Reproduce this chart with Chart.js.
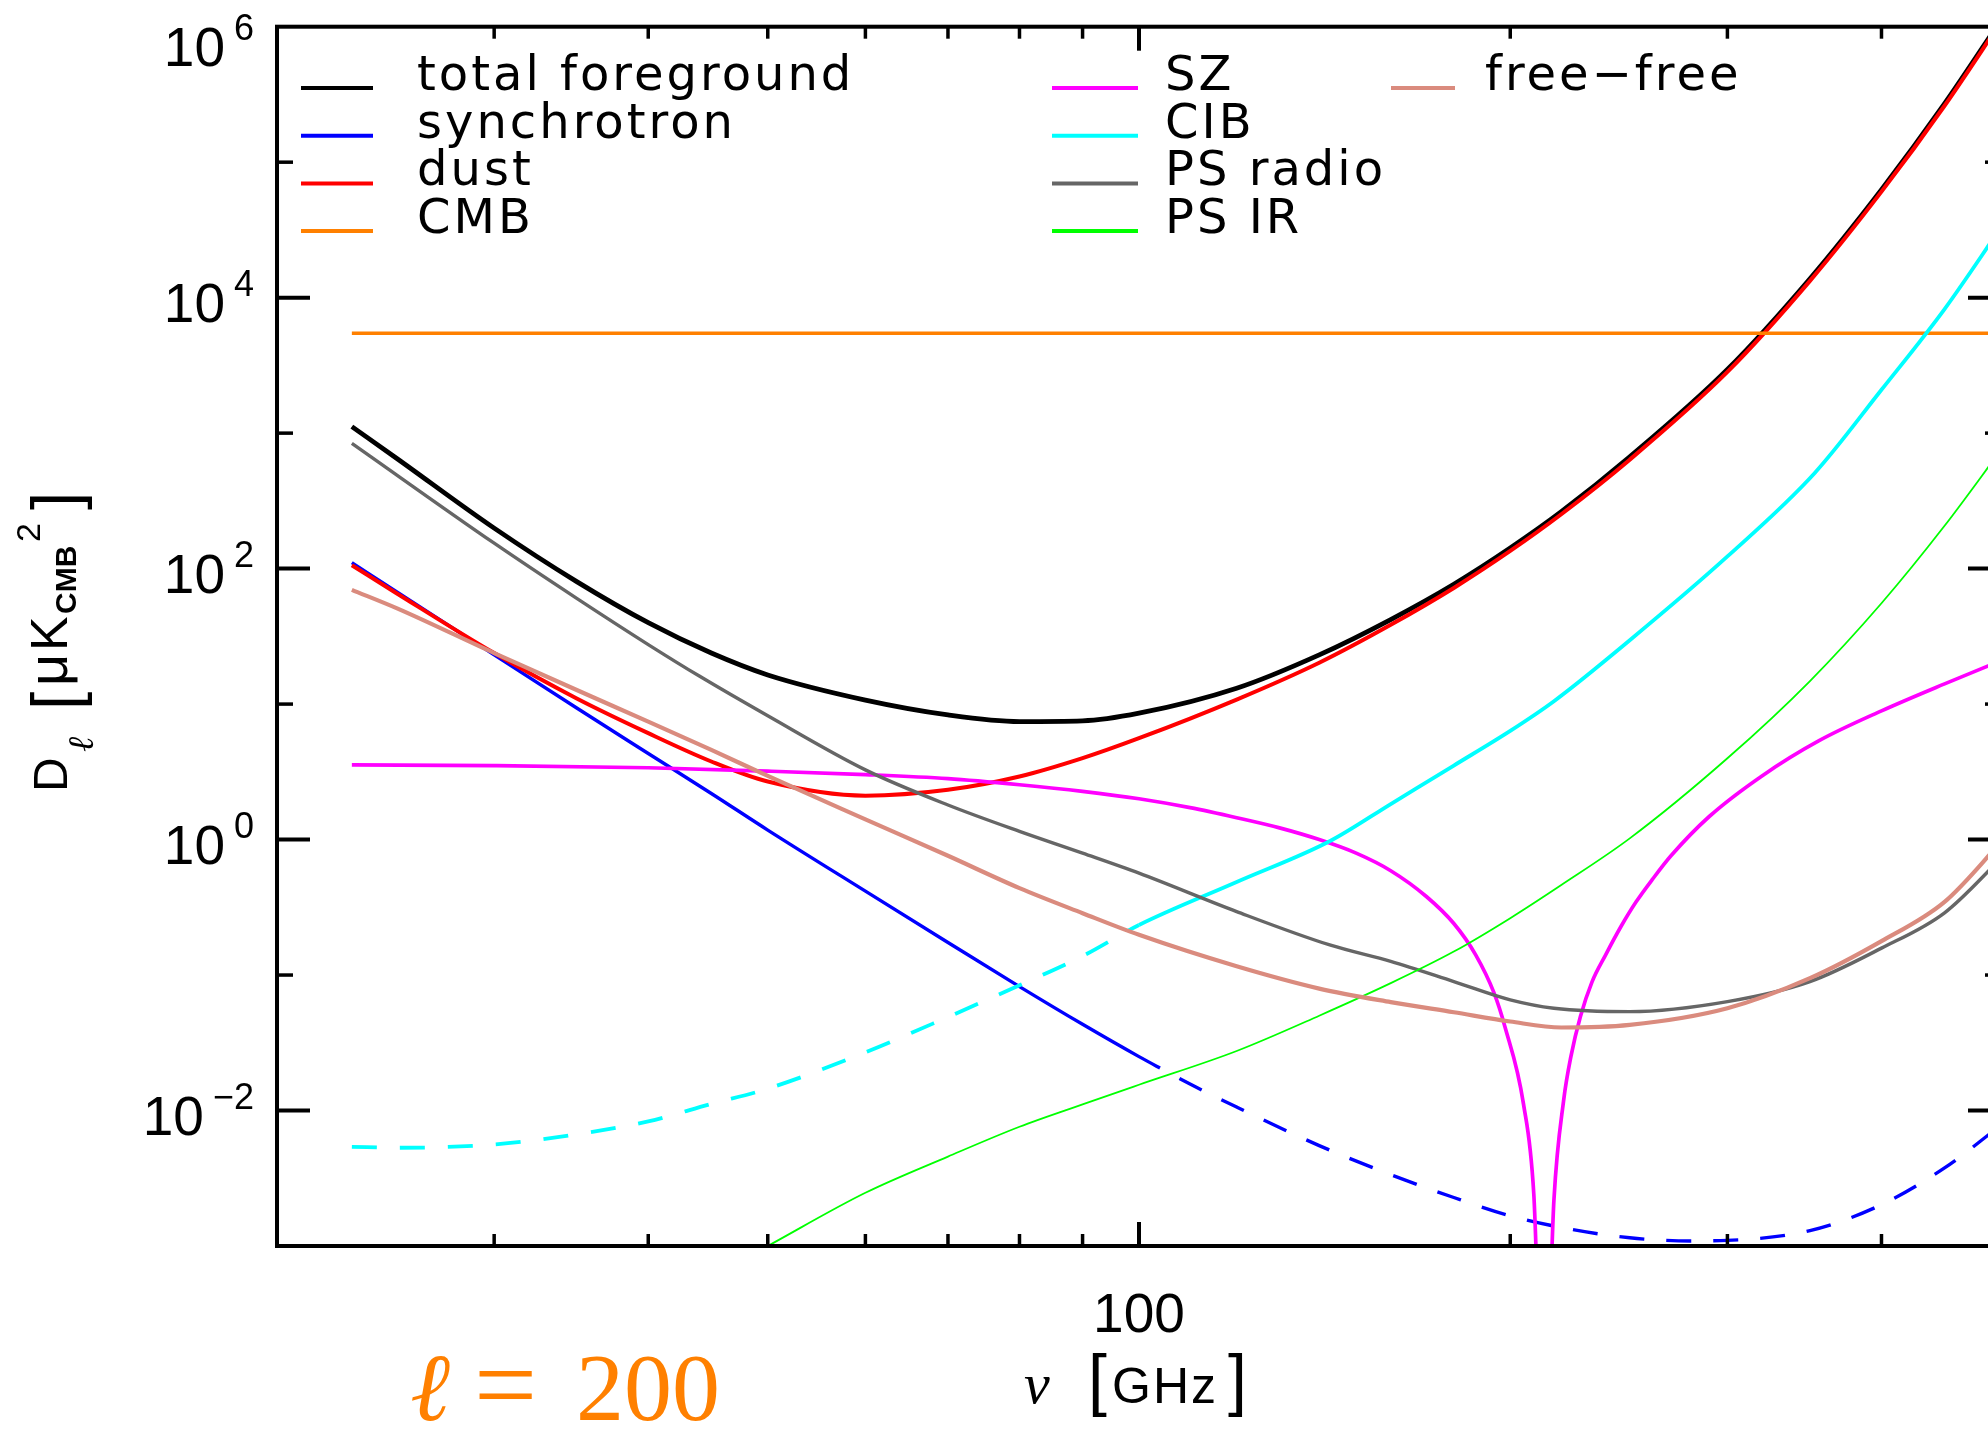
<!DOCTYPE html>
<html>
<head>
<meta charset="utf-8">
<title>Foregrounds at l = 200</title>
<script src="https://cdn.jsdelivr.net/npm/chart.js@4.4.1/dist/chart.umd.min.js"></script>
<style>
  html, body { margin: 0; padding: 0; overflow: hidden; background: #fff; }
  canvas { display: block; }
</style>
</head>
<body>
<canvas id="fg" width="2014" height="1429"></canvas>
<script>
// frequencies in GHz, D_l in uK_CMB^2
const nuFg = [23, 25, 30, 35, 40, 45, 50, 60, 70, 80, 90, 100, 120, 140, 160, 180, 200, 220, 250, 300, 350, 400, 450, 500];
const totalFg = [1117, 653, 199, 80.2, 39.9, 23.8, 16.4, 10.7, 8.32, 7.43, 7.52, 8.57, 13.1, 23.1, 42.1, 76.7, 142, 263, 668, 2950, 13800, 62700, 270000, 1120000];
const dust = [106, 65.8, 23.8, 11.0, 6.10, 3.77, 2.68, 2.11, 2.33, 2.92, 3.99, 5.60, 10.8, 20.2, 38.5, 72.0, 135, 252, 637, 2830, 13300, 60600, 261000, 1087000];
const freeFree = [69.7, 51.1, 23.8, 12.7, 7.43, 4.59, 2.95, 1.41, 0.759, 0.438, 0.286, 0.198, 0.116, 0.0794, 0.0631, 0.0531, 0.0454, 0.0410, 0.0429, 0.0569, 0.0948, 0.178, 0.347, 0.955];

const nuSync = [23, 25, 30, 35, 40, 45, 50, 60, 70, 80, 90, 100, 104, 110, 120, 140, 160, 180, 200, 220, 250, 280, 300, 350, 400, 450, 500];
const sync = [110.7, 67.6, 23.1, 9.35, 4.32, 2.19, 1.175, 0.416, 0.174, 0.0822, 0.0433, 0.0250, 0.0206, 0.0157, 0.0106, 0.00551, 0.00336, 0.00228, 0.00167, 0.00137, 0.00115, 0.00109, 0.00110, 0.00130, 0.00202, 0.00377, 0.0078];
const syncDashFrom = 104;

const nuCmb = [23, 500];
const cmb = [5460, 5460];

const nuSz = [23, 30, 40, 50, 60, 70, 80, 90, 100, 110, 120, 130, 140, 150, 160, 171, 180, 187.5, 194, 198, 205, 209, 213, 217, 221, 224, 228, 233, 239, 246, 253, 261, 270, 290, 320, 356, 400, 450, 500];
const sz = [3.56, 3.51, 3.39, 3.20, 3.02, 2.82, 2.54, 2.27, 2.00, 1.72, 1.45, 1.22, 1.00, 0.794, 0.589, 0.380, 0.240, 0.141, 0.0741, 0.0417, 0.0112, 0.0024, 0.000032, 0.00219, 0.0120, 0.0251, 0.0494, 0.0891, 0.141, 0.229, 0.347, 0.513, 0.759, 1.48, 2.95, 5.37, 8.91, 14.1, 20.9];

const nuCib = [23, 25, 30, 35, 40, 45, 50, 60, 70, 80, 90, 100, 120, 143, 160, 180, 200, 217, 250, 300, 353, 400, 450, 500];
const cib = [0.0054, 0.00531, 0.00562, 0.00668, 0.00832, 0.0112, 0.0145, 0.0269, 0.049, 0.0841, 0.138, 0.234, 0.486, 0.98, 1.83, 3.52, 6.34, 10.5, 29.6, 123, 506, 2089, 8240, 33000];
const cibDashTo = 100;

const nuRad = [23, 30, 35, 40, 44, 50, 60, 70, 80, 90, 100, 120, 143, 160, 180, 200, 217, 250, 300, 350, 400, 450, 500];
const psRadio = [841, 154, 60.3, 27.5, 16.1, 8.2, 3.27, 1.80, 1.15, 0.794, 0.565, 0.294, 0.166, 0.126, 0.0895, 0.0656, 0.0569, 0.0537, 0.0637, 0.0895, 0.158, 0.288, 0.724];

const nuIr = [50, 60, 70, 80, 90, 100, 120, 140, 160, 180, 200, 220, 250, 300, 350, 400, 450, 500];
const psIr = [0.0010, 0.00247, 0.00457, 0.00759, 0.0111, 0.0155, 0.0275, 0.0501, 0.0871, 0.149, 0.263, 0.462, 1.02, 3.98, 14.8, 55.5, 207, 752];

// axes
const xMin = 20, xMax = 500;
const yMin = 1e-3, yMax = 1e6;
const xTicks = [30, 40, 50, 60, 70, 80, 90, 100, 200, 300, 400];
const xLabelValues = [100];
const xLabelTexts = ['100'];
const yTickPowers = [-2, -1, 0, 1, 2, 3, 4, 5];
const yLabelPowers = [-2, 0, 2, 4, 6];

const sans = '"Liberation Sans", Arial, sans-serif';
const serif = '"Liberation Serif", "DejaVu Serif", serif';
const legendFont = '48px "DejaVu Sans", sans-serif';

function pts(xs, ys) {
    return xs.map((x, i) => ({ x: x, y: ys[i] }));
}

const series = [
    { label: 'total foreground', x: nuFg, y: totalFg, color: '#000000', width: 4.8 },
    { label: 'synchrotron', x: nuSync, y: sync, color: '#0000ff', width: 3.4,
      segment: { borderDash: c => c.p0.parsed.x >= syncDashFrom ? [25, 22] : undefined,
                 borderDashOffset: c => c.p0.parsed.x >= syncDashFrom ? 25 : undefined } },
    { label: 'dust', x: nuFg, y: dust, color: '#ff0000', width: 4 },
    { label: 'CMB', x: nuCmb, y: cmb, color: '#ff8000', width: 3.4 },
    { label: 'SZ', x: nuSz, y: sz, color: '#ff00ff', width: 3.7 },
    { label: 'CIB', x: nuCib, y: cib, color: '#00ffff', width: 3.8,
      segment: { borderDash: c => c.p1.parsed.x <= cibDashTo ? [25, 23] : undefined } },
    { label: 'PS radio', x: nuRad, y: psRadio, color: '#666666', width: 3.4 },
    { label: 'PS IR', x: nuIr, y: psIr, color: '#00ff00', width: 1.8 },
    { label: 'free\u2212free', x: nuFg, y: freeFree, color: '#da8b7e', width: 4.2 }
];

const datasets = series.map((s, i) => {
    const d = {
        label: s.label,
        data: pts(s.x, s.y),
        borderColor: s.color,
        backgroundColor: s.color,
        borderWidth: s.width,
        pointRadius: 0,
        fill: false,
        cubicInterpolationMode: 'monotone',
        capBezierPoints: false,
        clip: 0,
        order: series.length - i
    };
    if (s.segment) d.segment = s.segment;
    return d;
});

// legend columns: sample line start, its length, text start, number of entries
const legendCols = [
    { lineX: 301, lineW: 72, textX: 417, n: 4 },
    { lineX: 1052, lineW: 86, textX: 1165, n: 4 },
    { lineX: 1391, lineW: 64, textX: 1485, n: 1 }
];
const legendTop = 90, legendStep = 47.7;

const framePlugin = {
    id: 'frame',
    afterDatasetsDraw(chart) {
        const ctx = chart.ctx;
        const a = chart.chartArea;
        const xs = chart.scales.x, ys = chart.scales.y;
        const seg = (x1, y1, x2, y2) => { ctx.beginPath(); ctx.moveTo(x1, y1); ctx.lineTo(x2, y2); ctx.stroke(); };

        ctx.save();
        ctx.strokeStyle = '#000';
        ctx.fillStyle = '#000';

        xTicks.forEach(v => {
            const px = xs.getPixelForValue(v);
            const major = xLabelValues.includes(v);
            ctx.lineWidth = major ? 4 : 3.5;
            const len = major ? 24 : 12;
            seg(px, a.bottom, px, a.bottom - len);
            seg(px, a.top, px, a.top + len);
        });
        yTickPowers.forEach(p => {
            const py = ys.getPixelForValue(Math.pow(10, p));
            const major = yLabelPowers.includes(p);
            ctx.lineWidth = major ? 4 : 3.5;
            const len = major ? 33 : 16;
            seg(a.left, py, a.left + len, py);
            seg(a.right, py, a.right - len, py);
        });
        ctx.lineWidth = 4;
        ctx.strokeRect(a.left, a.top, a.right - a.left, a.bottom - a.top);

        // tick labels
        ctx.textBaseline = 'alphabetic';
        ctx.textAlign = 'center';
        ctx.font = '55px ' + sans;
        xLabelValues.forEach((v, i) => {
            ctx.fillText(xLabelTexts[i], xs.getPixelForValue(v), 1332);
        });
        yLabelPowers.forEach(p => {
            const py = ys.getPixelForValue(Math.pow(10, p));
            const shift = py - a.top < 10 ? 15 : 0;
            const sup = p < 0 ? '\u2212' + (-p) : String(p);
            ctx.textAlign = 'right';
            ctx.font = '36px ' + sans;
            ctx.fillText(sup, 254, py - 2 + shift);
            const sw = ctx.measureText(sup).width;
            ctx.font = '55px ' + sans;
            ctx.fillText('10', 254 - sw - 9, py + 24 + shift);
        });

        // x title
        ctx.textAlign = 'left';
        ctx.font = 'italic 58px ' + serif;
        ctx.fillText('\u03bd', 1024, 1403);
        ctx.font = '68px ' + sans;
        ctx.fillText('[', 1088, 1403);
        ctx.fillText(']', 1228, 1403);
        ctx.font = '50px ' + sans;
        ctx.letterSpacing = '2px';
        ctx.fillText('GHz', 1112, 1403);
        ctx.letterSpacing = '0px';

        // y title, rotated
        ctx.save();
        ctx.translate(67, 792);
        ctx.rotate(-Math.PI / 2);
        const yTitle = [
            { t: 'D', f: '48px ' + sans, u: 0, v: 0 },
            { t: '\u2113', f: 'italic 36px ' + serif, u: 40, v: 26 },
            { t: '[', f: '66px ' + sans, u: 82, v: 11 },
            { t: '\u03bc', f: '56px ' + sans, u: 106, v: 0 },
            { t: 'K', f: '52px ' + sans, u: 141, v: 0 },
            { t: 'CMB', f: 'bold 30px ' + sans, u: 178, v: 9 },
            { t: '2', f: '34px ' + sans, u: 250, v: -27 },
            { t: ']', f: '66px ' + sans, u: 282, v: 11 }
        ];
        yTitle.forEach(p => {
            ctx.font = p.f;
            ctx.fillText(p.t, p.u, p.v);
        });
        ctx.restore();

        // legend
        let k = 0;
        ctx.font = legendFont;
        ctx.letterSpacing = '3px';
        legendCols.forEach(col => {
            for (let r = 0; r < col.n; r++, k++) {
                const ds = chart.data.datasets[k];
                const yb = legendTop + r * legendStep;
                ctx.strokeStyle = ds.borderColor;
                ctx.lineWidth = 4;
                seg(col.lineX, yb - 2, col.lineX + col.lineW, yb - 2);
                ctx.fillStyle = '#000';
                ctx.fillText(ds.label, col.textX, yb);
            }
        });
        ctx.letterSpacing = '0px';

        // multipole annotation
        ctx.fillStyle = '#ff8000';
        ctx.font = 'italic 96px ' + serif;
        ctx.fillText('\u2113', 410, 1420);
        ctx.font = '112px ' + serif;
        ctx.fillText('=', 474, 1422);
        ctx.font = '96px ' + serif;
        ctx.fillText('200', 576, 1420);

        ctx.restore();
    }
};

const canvas = document.getElementById('fg');
const chart = new Chart(canvas.getContext('2d'), {
    type: 'line',
    data: { datasets: datasets },
    options: {
        responsive: false,
        animation: false,
        devicePixelRatio: 1,
        events: [],
        layout: { padding: { left: 277, top: 26.7, right: canvas.width - 2001, bottom: canvas.height - 1246 } },
        plugins: { legend: { display: false }, tooltip: { enabled: false } },
        scales: {
            x: { type: 'logarithmic', min: xMin, max: xMax, display: false },
            y: { type: 'logarithmic', min: yMin, max: yMax, display: false }
        }
    },
    plugins: [framePlugin]
});
</script>
</body>
</html>
